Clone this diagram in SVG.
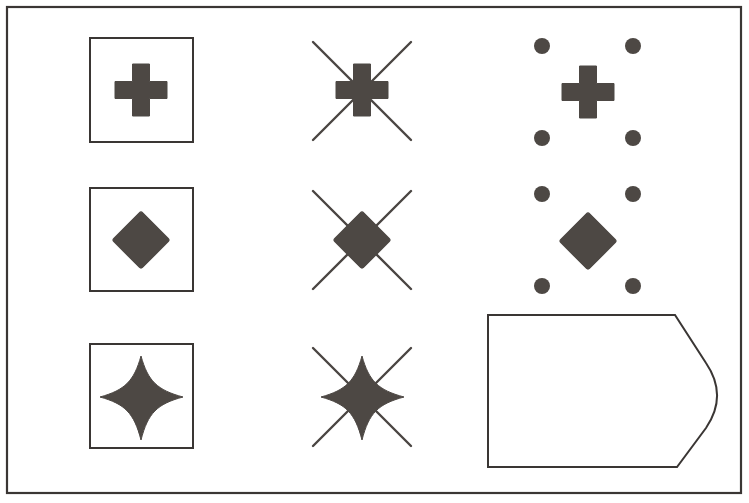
<svg xmlns="http://www.w3.org/2000/svg" xmlns:xlink="http://www.w3.org/1999/xlink" width="749" height="503" viewBox="0 0 749 503">
  <style>
    .frame{fill:none;stroke:#3a3634;stroke-width:2.2}
    .box{fill:none;stroke:#3a3634;stroke-width:2}
    .fig{fill:#4d4844;stroke:#4d4844;stroke-width:1;stroke-linejoin:round}
    .xl{stroke:#4a4542;stroke-width:2.4;stroke-linecap:round}
    .dot{fill:#4d4844}
  </style>
  <defs>
    <path id="cross" class="fig" d="M-8.5,-26 H8.5 V-8.5 H26 V8.5 H8.5 V26 H-8.5 V8.5 H-26 V-8.5 H-8.5 Z"/>
    <rect id="diamond" class="fig" x="-20.5" y="-20.5" width="41" height="41" rx="2.5" transform="rotate(45)"/>
    <path id="star" class="fig" d="M0,-41 C7,-16 16,-7 42,0 C16,7 7,16 0,43 C-7,16 -16,7 -41,0 C-16,-7 -7,-16 0,-41 Z"/>
    <g id="xmark">
      <line class="xl" x1="-49" y1="-49" x2="49" y2="49"/>
      <line class="xl" x1="49" y1="-49" x2="-49" y2="49"/>
    </g>
    <g id="dots">
      <circle class="dot" cx="-46" cy="-46" r="8"/>
      <circle class="dot" cx="45" cy="-46" r="8"/>
      <circle class="dot" cx="-46" cy="46" r="8"/>
      <circle class="dot" cx="45" cy="46" r="8"/>
    </g>
  </defs>
  <rect width="749" height="503" fill="#ffffff"/>
  <rect class="frame" x="7" y="7" width="734" height="486"/>

  <g id="r1c1"><rect class="box" x="90" y="38" width="103" height="104"/><use xlink:href="#cross" x="141" y="90"/></g>
  <g id="r1c2"><use xlink:href="#xmark" x="362" y="91"/><use xlink:href="#cross" x="362" y="90"/></g>
  <g id="r1c3"><use xlink:href="#dots" x="588" y="92"/><use xlink:href="#cross" x="588" y="92"/></g>

  <g id="r2c1"><rect class="box" x="90" y="188" width="103" height="103"/><use xlink:href="#diamond" x="141" y="240"/></g>
  <g id="r2c2"><use xlink:href="#xmark" x="362" y="240"/><use xlink:href="#diamond" x="362" y="240"/></g>
  <g id="r2c3"><use xlink:href="#dots" x="588" y="240"/><use xlink:href="#diamond" x="588" y="241"/></g>

  <g id="r3c1"><rect class="box" x="90" y="344" width="103" height="104"/><use xlink:href="#star" x="141" y="397"/></g>
  <g id="r3c2"><use xlink:href="#xmark" x="362" y="397"/><use xlink:href="#star" x="362" y="397"/></g>
  <g id="r3c3"><path class="box" d="M488,315 H675 L706,363 C721,385 721,406 706,428 L677,467 H488 Z"/></g>
</svg>
